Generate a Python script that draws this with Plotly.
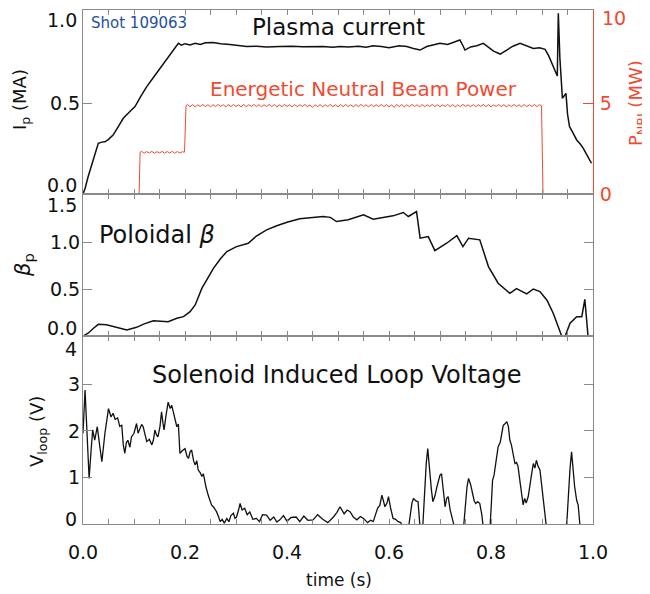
import plotly.graph_objects as go

# ---------------- data ----------------
t_ip = [0.000, 0.004, 0.010, 0.020, 0.030, 0.037, 0.043, 0.050, 0.059, 0.068,
        0.079, 0.090, 0.102, 0.113, 0.125, 0.138, 0.151, 0.161, 0.171, 0.180,
        0.187, 0.193, 0.200, 0.210, 0.220, 0.230, 0.240, 0.255, 0.270, 0.288,
        0.305, 0.321, 0.340, 0.360, 0.386, 0.410, 0.430, 0.451, 0.470, 0.490,
        0.504, 0.520, 0.540, 0.555, 0.569, 0.585, 0.600, 0.620, 0.635, 0.648,
        0.661, 0.674, 0.687, 0.700, 0.715, 0.728, 0.739, 0.744, 0.749, 0.760,
        0.772, 0.785, 0.795, 0.805, 0.818, 0.830, 0.843, 0.857, 0.870, 0.883,
        0.895, 0.906, 0.913, 0.919, 0.925, 0.930, 0.932, 0.935, 0.940, 0.944,
        0.947, 0.950, 0.954, 0.960, 0.968, 0.975, 0.981, 0.988, 0.997]
ip_ma = [0.000, 0.030, 0.095, 0.187, 0.278, 0.285, 0.287, 0.300, 0.324, 0.365,
         0.416, 0.448, 0.480, 0.535, 0.590, 0.640, 0.690, 0.728, 0.764, 0.800,
         0.828, 0.818, 0.826, 0.819, 0.828, 0.822, 0.831, 0.833, 0.826, 0.822,
         0.815, 0.810, 0.812, 0.808, 0.810, 0.812, 0.809, 0.810, 0.811, 0.806,
         0.810, 0.808, 0.812, 0.806, 0.815, 0.811, 0.804, 0.815, 0.810, 0.800,
         0.791, 0.810, 0.818, 0.828, 0.822, 0.834, 0.846, 0.820, 0.791, 0.808,
         0.815, 0.828, 0.805, 0.785, 0.769, 0.790, 0.812, 0.828, 0.815, 0.800,
         0.804, 0.795, 0.760, 0.718, 0.680, 0.648, 0.993, 0.750, 0.526, 0.540,
         0.553, 0.440, 0.370, 0.340, 0.297, 0.275, 0.251, 0.215, 0.169]

t_nbi = [0.000, 0.110, 0.112,
         0.115, 0.120, 0.125, 0.130, 0.135, 0.140, 0.145, 0.150, 0.155, 0.160,
         0.165, 0.170, 0.175, 0.180, 0.185, 0.190, 0.195, 0.199, 0.202,
         0.205, 0.210, 0.215, 0.220, 0.225, 0.230, 0.235, 0.240, 0.245, 0.250,
         0.255, 0.260, 0.265, 0.270, 0.275, 0.280, 0.285, 0.290, 0.295, 0.300,
         0.305, 0.310, 0.315, 0.320, 0.325, 0.330, 0.335, 0.340, 0.345, 0.350,
         0.355, 0.360, 0.365, 0.370, 0.375, 0.380, 0.385, 0.390, 0.395, 0.400,
         0.405, 0.410, 0.415, 0.420, 0.425, 0.430, 0.435, 0.440, 0.445, 0.450,
         0.455, 0.460, 0.465, 0.470, 0.475, 0.480, 0.485, 0.490, 0.495, 0.500,
         0.505, 0.510, 0.515, 0.520, 0.525, 0.530, 0.535, 0.540, 0.545, 0.550,
         0.555, 0.560, 0.565, 0.570, 0.575, 0.580, 0.585, 0.590, 0.595, 0.600,
         0.605, 0.610, 0.615, 0.620, 0.625, 0.630, 0.635, 0.640, 0.645, 0.650,
         0.655, 0.660, 0.665, 0.670, 0.675, 0.680, 0.685, 0.690, 0.695, 0.700,
         0.705, 0.710, 0.715, 0.720, 0.725, 0.730, 0.735, 0.740, 0.745, 0.750,
         0.755, 0.760, 0.765, 0.770, 0.775, 0.780, 0.785, 0.790, 0.795, 0.800,
         0.805, 0.810, 0.815, 0.820, 0.825, 0.830, 0.835, 0.840, 0.845, 0.850,
         0.855, 0.860, 0.865, 0.870, 0.875, 0.880, 0.885, 0.890, 0.895,
         0.899, 0.902, 1.000]
p_nbi = [0.00, 0.00, 2.30,
         2.34, 2.24, 2.33, 2.25, 2.34, 2.24, 2.33, 2.25, 2.34, 2.24,
         2.33, 2.25, 2.34, 2.24, 2.33, 2.25, 2.32, 2.30, 4.85,
         4.92, 4.80, 4.91, 4.79, 4.90, 4.81, 4.92, 4.80, 4.90, 4.79,
         4.91, 4.80, 4.92, 4.81, 4.90, 4.79, 4.91, 4.80, 4.92, 4.81,
         4.90, 4.79, 4.91, 4.80, 4.90, 4.81, 4.92, 4.80, 4.91, 4.79,
         4.90, 4.81, 4.92, 4.80, 4.91, 4.79, 4.90, 4.80, 4.92, 4.81,
         4.90, 4.79, 4.91, 4.80, 4.90, 4.81, 4.92, 4.80, 4.89, 4.76,
         4.90, 4.80, 4.91, 4.79, 4.90, 4.81, 4.92, 4.80, 4.90, 4.79,
         4.91, 4.80, 4.92, 4.81, 4.90, 4.79, 4.91, 4.80, 4.92, 4.81,
         4.90, 4.79, 4.91, 4.80, 4.90, 4.81, 4.92, 4.80, 4.91, 4.79,
         4.90, 4.76, 4.92, 4.80, 4.91, 4.79, 4.90, 4.80, 4.92, 4.81,
         4.90, 4.79, 4.91, 4.80, 4.90, 4.81, 4.92, 4.80, 4.91, 4.79,
         4.90, 4.81, 4.92, 4.80, 4.91, 4.79, 4.90, 4.80, 4.92, 4.81,
         4.90, 4.79, 4.91, 4.80, 4.90, 4.81, 4.92, 4.80, 4.91, 4.79,
         4.90, 4.81, 4.92, 4.80, 4.91, 4.79, 4.90, 4.80, 4.92, 4.81,
         4.90, 4.79, 4.91, 4.80, 4.90, 4.81, 4.92, 4.80, 4.91,
         4.85, 0.00, 0.00]

t_beta = [0.000, 0.010, 0.020, 0.030, 0.046, 0.065, 0.086, 0.105, 0.120, 0.138,
          0.153, 0.167, 0.184, 0.197, 0.210, 0.220, 0.233, 0.245, 0.256, 0.270,
          0.282, 0.301, 0.324, 0.340, 0.360, 0.380, 0.400, 0.425, 0.450, 0.471,
          0.485, 0.497, 0.520, 0.550, 0.569, 0.590, 0.608, 0.628, 0.638, 0.654,
          0.661, 0.677, 0.690, 0.713, 0.733, 0.745, 0.756, 0.778, 0.795, 0.814,
          0.837, 0.850, 0.870, 0.883, 0.896, 0.910, 0.922, 0.942, 0.955, 0.968,
          0.978, 0.984, 0.991]
beta_p = [0.000, 0.030, 0.080, 0.125, 0.120, 0.090, 0.064, 0.093, 0.130, 0.164,
          0.160, 0.153, 0.190, 0.207, 0.260, 0.332, 0.510, 0.620, 0.726, 0.830,
          0.904, 0.957, 0.993, 1.070, 1.136, 1.180, 1.218, 1.254, 1.265, 1.279,
          1.270, 1.225, 1.245, 1.297, 1.250, 1.270, 1.286, 1.322, 1.279, 1.332,
          1.047, 1.064, 0.914, 0.993, 1.075, 0.957, 1.047, 1.029, 0.743, 0.565,
          0.457, 0.507, 0.450, 0.503, 0.475, 0.380, 0.243, -0.050, 0.136, 0.207,
          0.207, 0.393, -0.050]

t_v = [0.000, 0.004, 0.006, 0.009, 0.012, 0.016, 0.019, 0.023, 0.028, 0.032,
       0.037, 0.043, 0.050, 0.055, 0.059, 0.063, 0.068, 0.072, 0.076, 0.079,
       0.082, 0.085, 0.088, 0.092, 0.095, 0.100, 0.105, 0.108, 0.111, 0.115,
       0.118, 0.122, 0.125, 0.130, 0.135, 0.138, 0.141, 0.144, 0.147, 0.151,
       0.154, 0.157, 0.159, 0.163, 0.167, 0.171, 0.174, 0.177, 0.181, 0.184,
       0.187, 0.190, 0.195, 0.200, 0.204, 0.207, 0.210, 0.213, 0.217, 0.220,
       0.223, 0.226, 0.230, 0.233, 0.236, 0.239, 0.241, 0.246, 0.252, 0.257,
       0.262, 0.266, 0.269, 0.273, 0.277, 0.282, 0.286, 0.290, 0.295, 0.298,
       0.301, 0.305, 0.308, 0.312, 0.317, 0.322, 0.327, 0.333, 0.340, 0.346,
       0.352, 0.360, 0.367, 0.374, 0.380, 0.386, 0.393, 0.400, 0.408, 0.418,
       0.425, 0.433, 0.441, 0.451, 0.460, 0.470, 0.480, 0.491, 0.498, 0.504,
       0.512, 0.518, 0.524, 0.530, 0.537, 0.544, 0.550, 0.558, 0.564, 0.569,
       0.574, 0.578, 0.582, 0.586, 0.589, 0.592, 0.596, 0.599, 0.603, 0.608,
       0.613, 0.618, 0.623, 0.628, 0.638, 0.642, 0.645, 0.648, 0.652, 0.657,
       0.661, 0.666, 0.670, 0.673, 0.676, 0.679, 0.683, 0.686, 0.690, 0.694,
       0.697, 0.700, 0.703, 0.706, 0.710, 0.713, 0.716, 0.720, 0.723, 0.729,
       0.746, 0.750, 0.753, 0.756, 0.760, 0.764, 0.767, 0.770, 0.774, 0.778,
       0.782, 0.785, 0.798, 0.801, 0.803, 0.806, 0.810, 0.814, 0.818, 0.821,
       0.824, 0.827, 0.831, 0.834, 0.837, 0.840, 0.844, 0.847, 0.850, 0.853,
       0.857, 0.860, 0.863, 0.866, 0.869, 0.873, 0.876, 0.880, 0.883, 0.886,
       0.889, 0.892, 0.896, 0.900, 0.904, 0.909, 0.948, 0.952, 0.955, 0.958,
       0.961, 0.964, 0.968, 0.971, 0.975, 1.000]
v_loop = [1.95, 2.88, 2.40, 1.70, 0.98, 1.60, 2.02, 1.80, 2.09, 1.75,
          1.34, 1.95, 2.48, 2.30, 2.38, 2.25, 2.28, 2.10, 2.12, 1.70,
          1.52, 1.75, 1.80, 1.65, 1.87, 1.95, 2.16, 1.95, 2.02, 2.14,
          2.09, 1.90, 1.77, 1.82, 1.70, 1.80, 2.02, 1.92, 1.87, 2.10,
          2.41, 2.15, 2.02, 2.35, 2.62, 2.48, 2.55, 2.41, 2.20, 2.09,
          2.15, 1.52, 1.58, 1.62, 1.45, 1.41, 1.55, 1.59, 1.35, 1.27,
          1.36, 1.16, 1.10, 1.02, 1.08, 0.91, 0.80, 0.60, 0.41, 0.35,
          0.26, 0.15, 0.05, 0.10, 0.02, 0.12, 0.05, 0.18, 0.23, 0.12,
          0.15, 0.30, 0.44, 0.30, 0.34, 0.20, 0.26, 0.10, 0.12, 0.05,
          0.20, 0.19, 0.08, 0.15, 0.04, 0.09, 0.18, 0.06, 0.14, 0.15,
          0.05, 0.17, 0.08, 0.09, 0.20, 0.10, 0.03, 0.15, 0.25, 0.37,
          0.22, 0.30, 0.26, 0.15, 0.09, 0.16, 0.12, 0.03, 0.08, 0.05,
          0.20, 0.35, 0.40, 0.62, 0.50, 0.37, 0.45, 0.59, 0.35, 0.12,
          0.10, 0.05, 0.03, -0.10, -0.10, 0.25, 0.45, 0.55, 0.50, 0.48,
          -0.10, -0.10, 0.90, 1.30, 1.62, 1.20, 0.75, 0.48, 0.60, 0.80,
          0.95, 1.05, 1.08, 0.70, 0.37, 0.55, 0.59, 0.30, 0.19, -0.10,
          -0.10, 0.50, 0.80, 0.98, 0.85, 0.65, 0.50, 0.44, 0.48, 0.44,
          0.20, -0.10, -0.10, 0.50, 0.94, 1.05, 1.40, 1.66, 1.75, 1.95,
          2.12, 2.15, 2.20, 2.10, 1.80, 1.70, 1.45, 1.30, 1.32, 1.24,
          0.90, 0.60, 0.41, 0.55, 0.45, 0.59, 0.85, 1.10, 1.30, 1.20,
          1.37, 1.25, 1.16, 0.80, 0.40, -0.10, -0.10, 0.70, 1.20, 1.55,
          1.20, 0.80, 0.51, 0.40, -0.10, -0.10]

# tick labels
ip_ticks = [0.5]
ip_ticktext = ["0.5"]
nbi_ticks = [0, 5]
nbi_ticktext = ["0", "5"]
beta_ticks = [0.5, 1.0]
beta_ticktext = ["0.5", "1.0"]
v_ticks = [1, 2, 3]
v_ticktext = ["1", "2", "3"]
# labels at the panel edges, drawn nudged as in the original
edge_labels = [("1.0", 20), ("0.0", 185), ("1.5", 205), ("0.0", 328),
               ("4", 349), ("0", 519)]
nbi_edge_label = ("10", 18)

# ---------------- styling ----------------
FONT = "DejaVu Sans"
RED = "#f04a32"
BLUE = "#1e4fa0"
GREY = "#8a8a8a"
BLACK = "#111111"
TICKSIZE = 19

fig = go.Figure()
fig.add_trace(go.Scatter(x=t_ip, y=ip_ma, mode="lines", xaxis="x", yaxis="y",
                         line=dict(color=BLACK, width=1.5)))
fig.add_trace(go.Scatter(x=t_nbi, y=p_nbi, mode="lines", xaxis="x", yaxis="y2",
                         line=dict(color=RED, width=1)))
fig.add_trace(go.Scatter(x=t_beta, y=beta_p, mode="lines", xaxis="x2", yaxis="y3",
                         line=dict(color=BLACK, width=1.5)))
fig.add_trace(go.Scatter(x=t_v, y=v_loop, mode="lines", xaxis="x3", yaxis="y4",
                         line=dict(color=BLACK, width=1.3)))

OFF = 8                       # page body margin
W, H = 650 - OFF, 594 - OFF
L, R, T, B = 83 - OFF, 57, 10 - OFF, 70
pw, ph = W - L - R, H - T - B


def px(xs):                   # screen pixel -> paper
    return (xs - OFF - L) / pw


def py(ys):
    return (H - B - (ys - OFF)) / ph


d_bot = [0.0, py(336)]
d_mid = [py(336), py(194)]
d_top = [py(194), 1.0]

xcommon = dict(range=[0, 1], showline=True, linecolor=GREY, linewidth=1,
               mirror="ticks", ticks="inside", ticklen=5, tickcolor=GREY,
               tick0=0, dtick=0.2, tickformat=".1f", showgrid=False,
               zeroline=False, automargin=False,
               minor=dict(dtick=0.05, tick0=0, ticks="inside", ticklen=5,
                          tickcolor=GREY, showgrid=False))
ycommon = dict(showline=True, linecolor=GREY, linewidth=1, ticks="inside",
               ticklen=9, tickcolor=GREY, showgrid=False, zeroline=False,
               automargin=False, tickmode="array", ticklabelstandoff=-2,
               tickfont=dict(family=FONT, size=TICKSIZE, color=BLACK))

fig.update_layout(
    width=W, height=H,
    margin=dict(l=L, r=R, t=T, b=B),
    paper_bgcolor="white", plot_bgcolor="white",
    showlegend=False,
    font=dict(family=FONT, size=18, color=BLACK),
    xaxis=dict(**xcommon, anchor="y", showticklabels=False),
    xaxis2=dict(**xcommon, anchor="y3", showticklabels=False),
    xaxis3=dict(**xcommon, anchor="y4",
                tickfont=dict(family=FONT, size=TICKSIZE, color=BLACK),
                ticklabelstandoff=11),
    yaxis=dict(**ycommon, domain=d_top, range=[0, 1.011], mirror=False,
               tickvals=ip_ticks, ticktext=ip_ticktext),
    yaxis2=dict(overlaying="y", side="right", anchor="x", range=[0, 10.11],
                showline=True, linecolor=RED, linewidth=1, ticks="inside",
                ticklen=10, tickcolor=RED, showgrid=False, zeroline=False,
                automargin=False, tickmode="array",
                tickvals=nbi_ticks, ticktext=nbi_ticktext,
                tickfont=dict(family=FONT, size=TICKSIZE, color=RED),
                ticklabelstandoff=2),
    yaxis3=dict(**ycommon, domain=d_mid, range=[0, 1.52], mirror="ticks",
                anchor="x2", tickvals=beta_ticks, ticktext=beta_ticktext),
    yaxis4=dict(**ycommon, domain=d_bot, range=[0, 4.04], mirror="ticks",
                anchor="x3", tickvals=v_ticks, ticktext=v_ticktext),
)

ann = [
    dict(text="Shot 109063", x=px(89), y=py(23), xanchor="left",
         font=dict(family=FONT, size=15, color=BLUE)),
    dict(text="Plasma current", x=px(338), y=py(27),
         font=dict(family=FONT, size=23, color=BLACK)),
    dict(text="Energetic Neutral Beam Power", x=px(363), y=py(89),
         font=dict(family=FONT, size=20, color=RED)),
    dict(text="Poloidal <i>β</i>", x=px(97), y=py(235), xanchor="left",
         font=dict(family=FONT, size=24, color=BLACK)),
    dict(text="Solenoid Induced Loop Voltage", x=px(337), y=py(375),
         font=dict(family=FONT, size=24, color=BLACK)),
    dict(text="I<sub>p</sub> (MA)", x=px(21), y=py(100), textangle=-90,
         font=dict(family=FONT, size=18, color=BLACK)),
    dict(text="<i>β</i><sub>p</sub>", x=px(24), y=py(265), textangle=-90,
         font=dict(family=FONT, size=21, color=BLACK)),
    dict(text="V<sub>loop</sub> (V)", x=px(38), y=py(432), textangle=-90,
         font=dict(family=FONT, size=18, color=BLACK)),
    dict(text="P<sub>NBI</sub> (MW)", x=px(637), y=py(103), textangle=-90,
         font=dict(family=FONT, size=18, color=RED)),
    dict(text="time (s)", x=px(339), y=py(580),
         font=dict(family=FONT, size=17, color=BLACK)),
    dict(text=nbi_edge_label[0], x=px(600), y=py(nbi_edge_label[1]),
         xanchor="left", font=dict(family=FONT, size=TICKSIZE, color=RED)),
]
for txt, ys in edge_labels:
    ann.append(dict(text=txt, x=px(79), y=py(ys), xanchor="right",
                    font=dict(family=FONT, size=TICKSIZE, color=BLACK)))
for a in ann:
    a.update(xref="paper", yref="paper", showarrow=False)
    a.setdefault("xanchor", "center")
    a.setdefault("yanchor", "middle")
fig.update_layout(annotations=ann)

fig.write_html("out.html")
